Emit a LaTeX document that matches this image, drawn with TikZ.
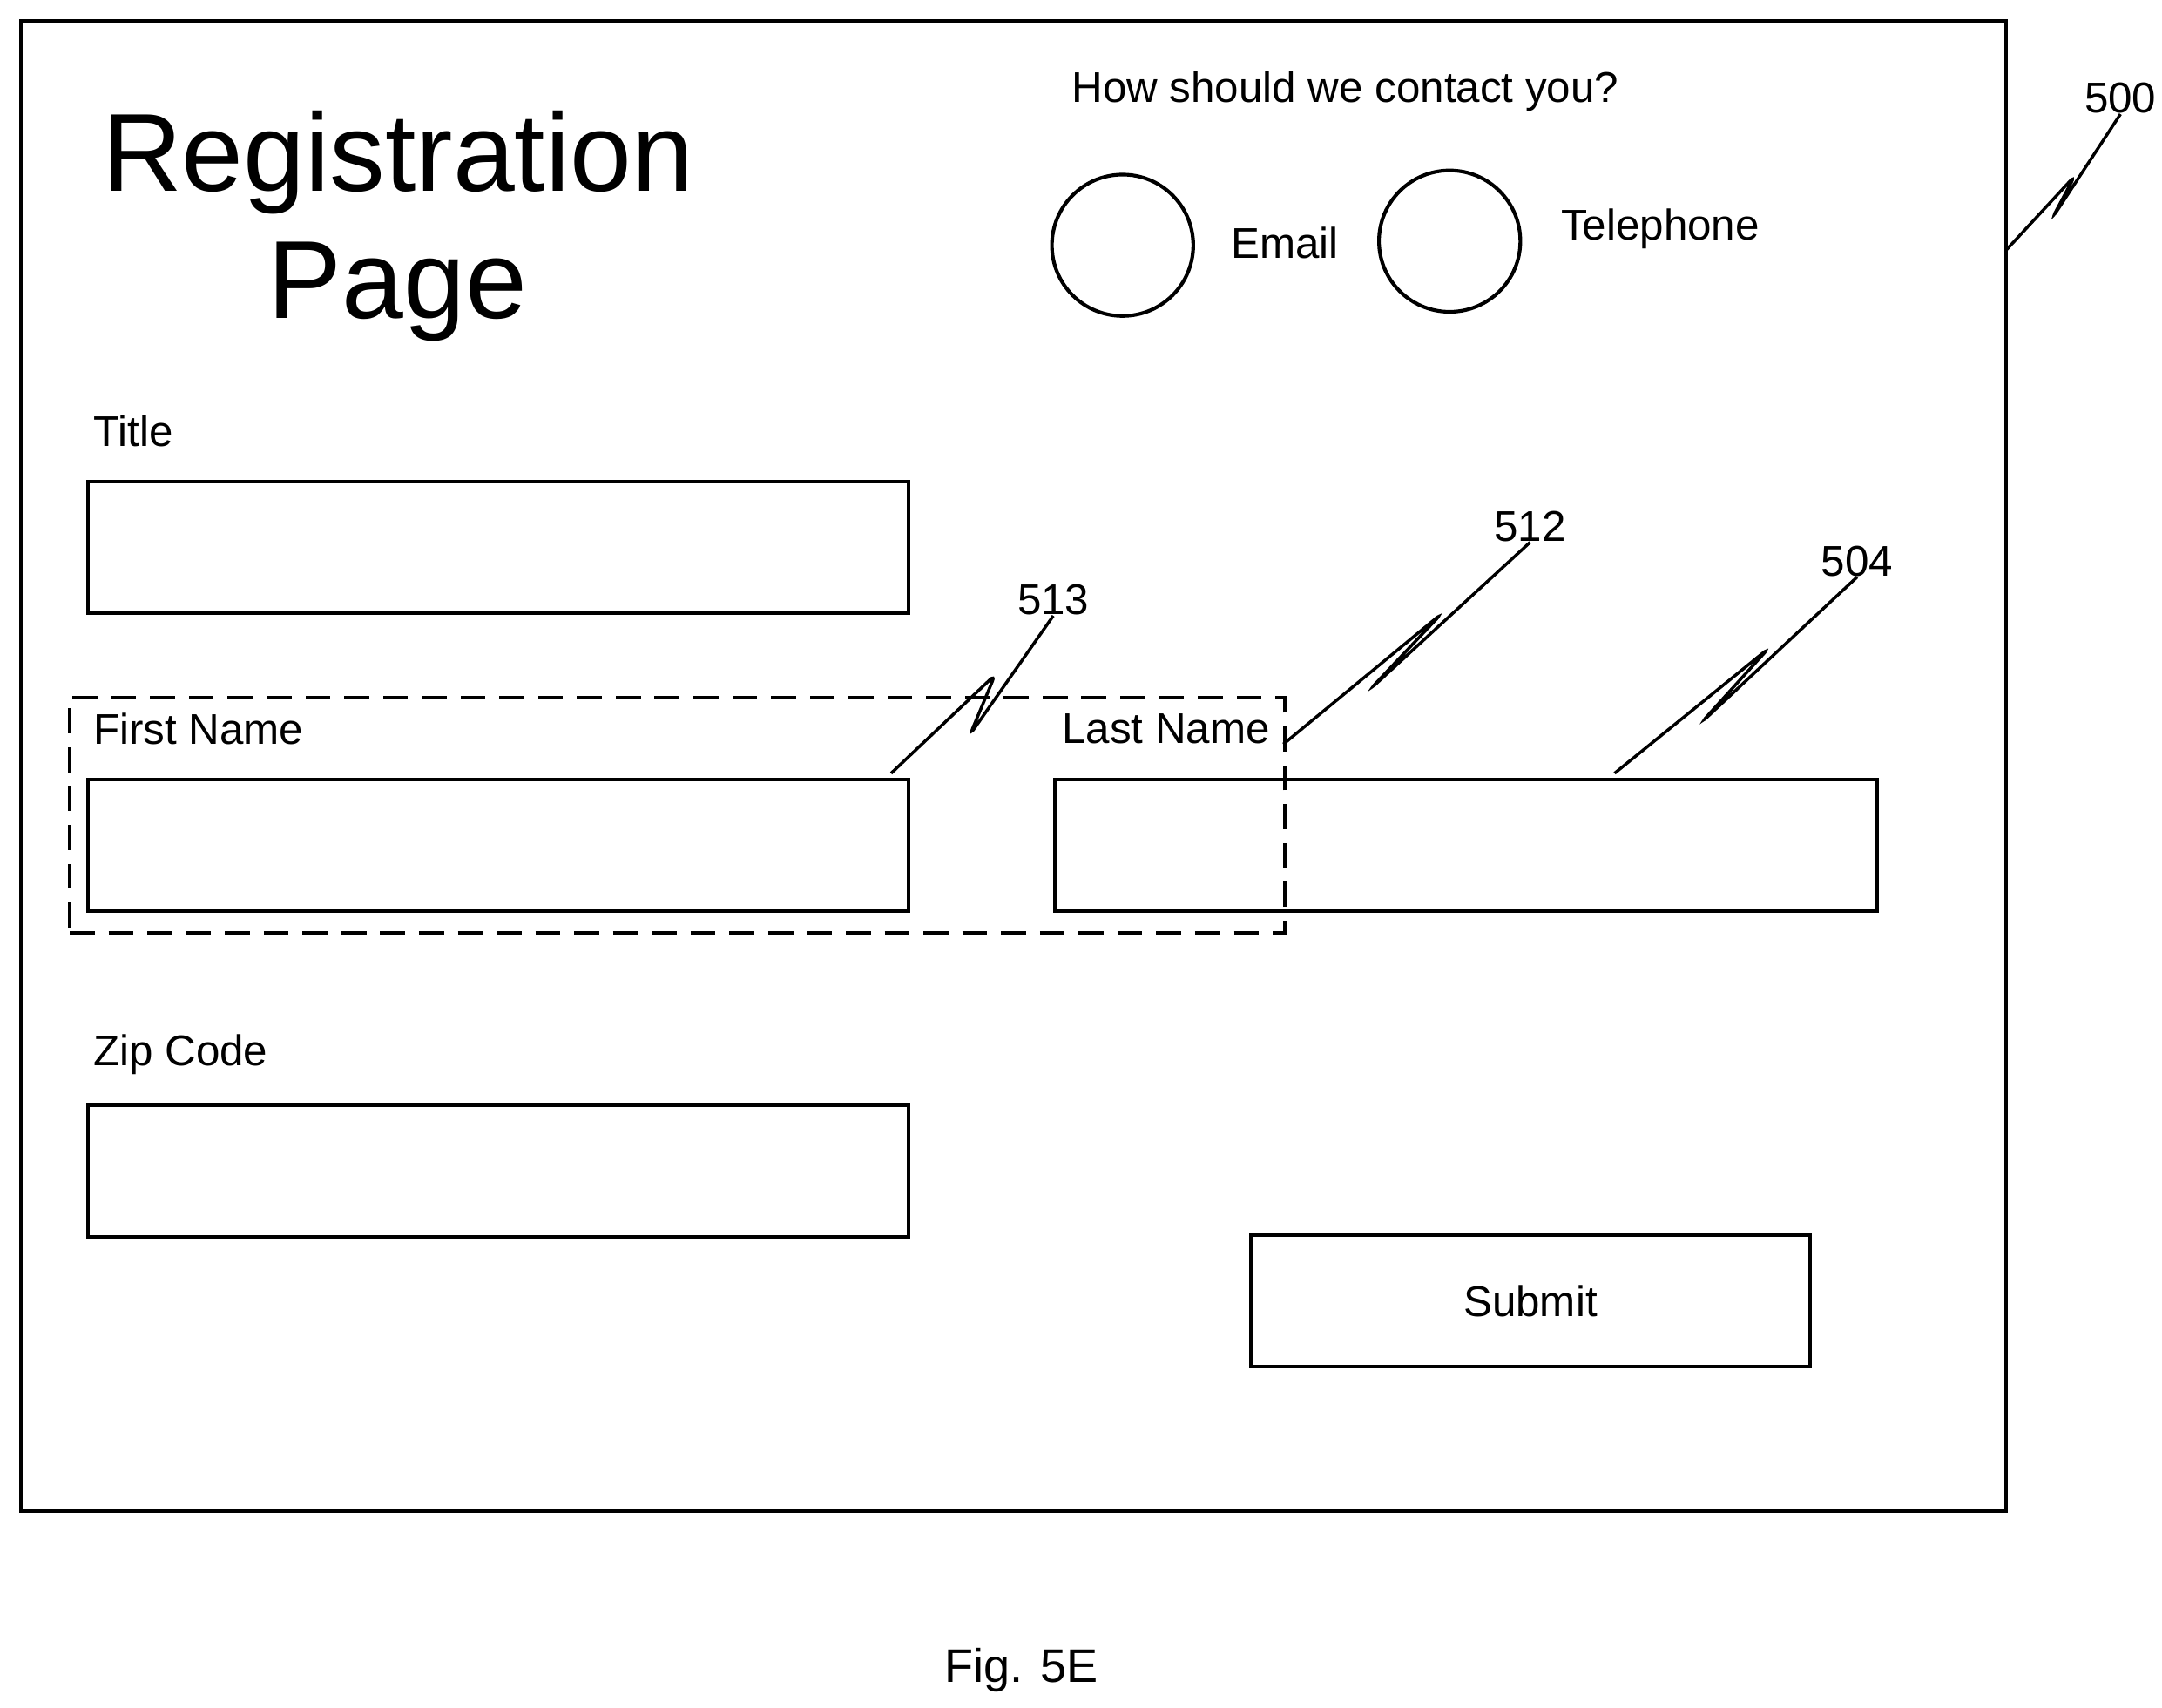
\documentclass[tikz,border=0pt]{standalone}
\usepackage{fontspec}
\setmainfont{Liberation Sans}
\begin{document}
\begin{tikzpicture}[x=0.5pt,y=-0.5pt,
  box/.style={draw,line width=1.3pt},
  lbl/.style={font=\fontsize{15.5}{17}\selectfont,inner sep=0pt},
  lead/.style={line width=1.1pt,rounded corners=2.5pt}]
\useasboundingbox (0,0) rectangle (1560,1232);
\node[box,minimum width=716pt,minimum height=537.5pt,anchor=north west] (frame) at (14,14) {};
\node[font=\fontsize{40}{46}\selectfont,align=center,inner sep=0pt] (reg) at (287,163) {Registration\\Page};
\node[lbl,anchor=west] (q) at (773,66) {How should we contact you?};
\node[box,circle,minimum size=51pt,inner sep=0pt] (c1) at (810,177) {};
\node[box,circle,minimum size=51pt,inner sep=0pt] (c2) at (1046,174) {};
\node[lbl,anchor=west] (em) at (888,175) {Email};
\node[lbl,anchor=west] (tel) at (1126,165) {Telephone};
\node[lbl,anchor=west] (tl) at (67,311) {Title};
\node[box,minimum width=296pt,minimum height=47.5pt,anchor=north west] (tb) at (62,346) {};
\node[lbl,anchor=west] (fl) at (67,526) {First Name};
\node[box,minimum width=296pt,minimum height=47.5pt,anchor=north west] (fb) at (62,561) {};
\node[lbl,anchor=west] (ll) at (766,526) {Last Name};
\node[box,minimum width=296.5pt,minimum height=47.5pt,anchor=north west] (lb) at (760,561) {};
\node[draw,dashed,dash pattern=on 9pt off 5pt,line width=1.3pt,minimum width=438.5pt,minimum height=85pt,anchor=north west] (grp) at (49,502) {};
\node[lbl,anchor=west] (zl) at (67,761) {Zip Code};
\node[box,minimum width=296pt,minimum height=47.5pt,anchor=north west] (zb) at (62,796) {};
\node[box,minimum width=202pt,minimum height=47.5pt,anchor=north west,font=\fontsize{15.5}{17}\selectfont] (sb) at (901,890) {Submit};
\node[font=\fontsize{17}{19}\selectfont,inner sep=0pt] (fig) at (737,1205) {Fig. 5E};
\node[lbl] (n500) at (1530,71) {500};
\node[lbl] (n513) at (760,433) {513};
\node[lbl] (n512) at (1104,380) {512};
\node[lbl] (n504) at (1340,405) {504};
\coordinate (a500) at (1448,180);
\coordinate (a513) at (643,558);
\coordinate (a512) at (926,537);
\coordinate (a504) at (1165,558);
\draw[lead] (a500) -- (1497,127) -- (1481,157) -- (n500.south);
\draw[lead] (a513) -- (718,487) -- (700,530) -- (n513.south);
\draw[lead] (a512) -- (1040,443) -- (989,497) -- (n512.south);
\draw[lead] (a504) -- (1276,468) -- (1228,521) -- (n504.south);
\end{tikzpicture}
\end{document}
